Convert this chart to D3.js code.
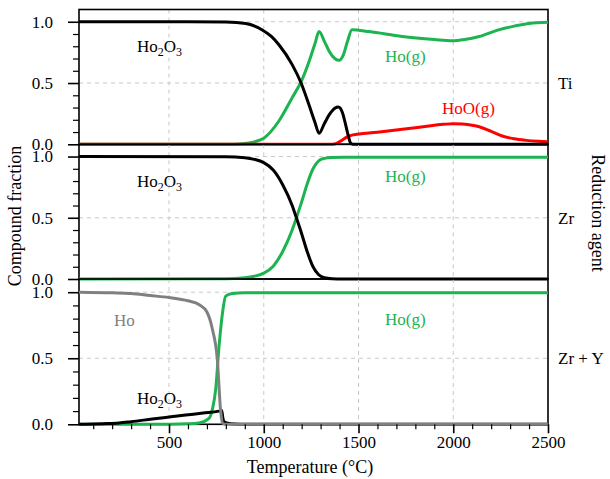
<!DOCTYPE html>
<html>
<head>
<meta charset="utf-8">
<script src="https://cdn.jsdelivr.net/npm/d3@7"></script>
<style>
  html, body { margin: 0; padding: 0; background: #fff; }
  svg text { font-family: "Liberation Serif", "Times New Roman", serif; }
</style>
</head>
<body>
<svg id="chart" width="610" height="479"></svg>
<script>
// ---------- DATA ----------
const xTicksMajor = [500, 1000, 1500, 2000, 2500];
const yTicksMajor = [0, 0.5, 1.0];
const agents = ["Ti", "Zr", "Zr + Y"];

// Panel 1 : Ti
const tiHo2O3_T = [25, 600, 800, 905, 990, 1040, 1081, 1150, 1197, 1239, 1270, 1292, 1320, 1345, 1375, 1394, 1415, 1432, 1446, 1458, 1470, 2500];
const tiHo2O3_V = [1.0, 1.0, 0.997, 0.985, 0.935, 0.88, 0.81, 0.65, 0.50, 0.32, 0.18, 0.09, 0.17, 0.24, 0.295, 0.305, 0.26, 0.16, 0.07, 0.01, 0.0, 0.0];
const tiHoG_T = [25, 800, 887, 950, 1000, 1080, 1150, 1200, 1240, 1270, 1292, 1320, 1345, 1375, 1398, 1420, 1440, 1466, 1556, 1730, 1900, 1994, 2060, 2137, 2230, 2310, 2400, 2500];
const tiHoG_V = [0.0, 0.0, 0.005, 0.02, 0.05, 0.19, 0.38, 0.52, 0.68, 0.82, 0.92, 0.84, 0.76, 0.70, 0.685, 0.73, 0.83, 0.935, 0.92, 0.88, 0.855, 0.845, 0.855, 0.88, 0.93, 0.96, 0.985, 0.995];
const tiHoOG_T = [25, 1350, 1380, 1410, 1440, 1466, 1600, 1800, 1950, 2000, 2050, 2100, 2137, 2200, 2258, 2320, 2385, 2450, 2500];
const tiHoOG_V = [0.0, 0.0, 0.005, 0.03, 0.06, 0.075, 0.098, 0.135, 0.163, 0.168, 0.165, 0.155, 0.143, 0.105, 0.068, 0.045, 0.032, 0.024, 0.02];

// Panel 2 : Zr
const zrHo2O3_T = [25, 800, 900, 950, 1000, 1050, 1100, 1150, 1170, 1200, 1230, 1260, 1290, 1320, 1360, 1420, 2500];
const zrHo2O3_V = [1.0, 0.998, 0.99, 0.977, 0.95, 0.89, 0.77, 0.60, 0.51, 0.37, 0.22, 0.10, 0.035, 0.01, 0.002, 0.0, 0.0];
const zrHoG_T = [25, 800, 900, 950, 1000, 1050, 1100, 1150, 1170, 1200, 1230, 1260, 1290, 1320, 1360, 1420, 2500];
const zrHoG_V = [0.0, 0.002, 0.01, 0.022, 0.048, 0.105, 0.225, 0.40, 0.49, 0.63, 0.78, 0.90, 0.965, 0.985, 0.993, 0.995, 0.995];

// Panel 3 : Zr + Y
const zyHo_T = [25, 200, 300, 400, 500, 600, 660, 700, 729, 755, 772, 782, 795, 820, 2500];
const zyHo_V = [1.0, 0.995, 0.99, 0.975, 0.96, 0.935, 0.905, 0.85, 0.72, 0.49, 0.11, 0.01, 0.0, 0.0, 0.0];
const zyHo2O3_T = [25, 150, 236, 300, 412, 500, 588, 680, 764, 778, 784, 790, 810, 850, 900, 2500];
const zyHo2O3_V = [0.0, 0.005, 0.01, 0.02, 0.04, 0.055, 0.07, 0.085, 0.10, 0.105, 0.05, 0.02, 0.008, 0.002, 0.0, 0.0];
const zyHoG_T = [25, 500, 600, 658, 711, 730, 746, 764, 782, 799, 834, 900, 2500];
const zyHoG_V = [0.0, 0.001, 0.004, 0.01, 0.045, 0.12, 0.26, 0.59, 0.84, 0.97, 0.99, 0.995, 0.995];

// ---------- BUILD ----------
const GREEN = "#1bb450", RED = "#ff0000", GREY = "#808080", BLACK = "#000000";
const zip = (T, V) => T.map((t, i) => ({ t: t, v: V[i] }));

const panels = [
  { agent: agents[0], top: 9.5, bottom: 144.3,
    series: [
      { data: zip(tiHoG_T, tiHoG_V), color: GREEN },
      { data: zip(tiHoOG_T, tiHoOG_V), color: RED },
      { data: zip(tiHo2O3_T, tiHo2O3_V), color: BLACK }
    ],
    labels: [
      { text: "Ho2O3", x: 137, v: 0.8, color: BLACK },
      { text: "Ho(g)", x: 385, v: 0.72, color: GREEN },
      { text: "HoO(g)", x: 442, v: 0.3, color: RED }
    ] },
  { agent: agents[1], top: 144.3, bottom: 279,
    series: [
      { data: zip(zrHoG_T, zrHoG_V), color: GREEN },
      { data: zip(zrHo2O3_T, zrHo2O3_V), color: BLACK }
    ],
    labels: [
      { text: "Ho2O3", x: 137, v: 0.8, color: BLACK },
      { text: "Ho(g)", x: 385, v: 0.84, color: GREEN }
    ] },
  { agent: agents[2], top: 279, bottom: 424.3,
    series: [
      { data: zip(zyHoG_T, zyHoG_V), color: GREEN },
      { data: zip(zyHo2O3_T, zyHo2O3_V), color: BLACK },
      { data: zip(zyHo_T, zyHo_V), color: GREY }
    ],
    labels: [
      { text: "Ho", x: 114, v: 0.79, color: GREY },
      { text: "Ho2O3", x: 137, v: 0.2, color: BLACK },
      { text: "Ho(g)", x: 385, v: 0.8, color: GREEN }
    ] }
];

const svg = d3.select("#chart");
const left = 79, right = 548;
const x = d3.scaleLinear().domain([25, 2500]).range([left, right]);

panels.forEach((p, pi) => {
  const y = d3.scaleLinear().domain([0, 1.1]).range([p.bottom, p.top]);
  const g = svg.append("g");

  // grid
  [500, 1000, 1500, 2000].forEach(t => {
    g.append("line").attr("x1", x(t)).attr("x2", x(t)).attr("y1", p.top).attr("y2", p.bottom)
      .attr("stroke", "#c8c8c8").attr("stroke-width", 1).attr("stroke-dasharray", "4,4");
  });
  [0.5, 1.0].forEach(v => {
    g.append("line").attr("x1", left).attr("x2", right).attr("y1", y(v)).attr("y2", y(v))
      .attr("stroke", "#c8c8c8").attr("stroke-width", 1).attr("stroke-dasharray", "4,4");
  });

  // frame
  g.append("rect").attr("x", left).attr("y", p.top).attr("width", right - left).attr("height", p.bottom - p.top)
    .attr("fill", "none").attr("stroke", "#000").attr("stroke-width", 1.6);

  // y axis: minor ticks
  const minor = d3.range(1, 11).map(i => i / 10).filter(v => Math.abs(v - 0.5) > 1e-6 && Math.abs(v - 1) > 1e-6);
  const yMinor = d3.axisLeft(y).tickValues(minor).tickSize(6).tickFormat("");
  const gm = g.append("g").attr("transform", `translate(${left},0)`).call(yMinor);
  gm.select(".domain").remove();
  gm.selectAll("line").attr("stroke", "#000").attr("stroke-width", 1.2);

  const yMajor = d3.axisLeft(y).tickValues(yTicksMajor).tickSize(11).tickPadding(15).tickFormat(d3.format(".1f"));
  const ga = g.append("g").attr("transform", `translate(${left},0)`).call(yMajor);
  ga.select(".domain").remove();
  ga.selectAll("line").attr("stroke", "#000").attr("stroke-width", 1.6);
  ga.selectAll("text").attr("font-family", "Liberation Serif, Times New Roman, serif")
    .attr("font-size", 17).attr("fill", "#000");

  // curves
  const line = d3.line().x(d => x(d.t)).y(d => y(d.v)).curve(d3.curveMonotoneX);
  p.series.forEach(s => {
    g.append("path").datum(s.data).attr("d", line)
      .attr("fill", "none").attr("stroke", s.color).attr("stroke-width", 3)
      .attr("stroke-linejoin", "round").attr("stroke-linecap", "butt");
  });

  // curve labels
  p.labels.forEach(l => {
    const t = g.append("text").attr("x", l.x).attr("y", y(l.v) + 6)
      .attr("font-size", 17).attr("fill", l.color);
    if (l.text === "Ho2O3") {
      t.append("tspan").text("Ho");
      t.append("tspan").text("2").attr("font-size", 12).attr("dy", 4);
      t.append("tspan").text("O").attr("dy", -4);
      t.append("tspan").text("3").attr("font-size", 12).attr("dy", 4);
    } else {
      t.text(l.text);
    }
  });

  // agent label
  g.append("text").attr("x", 558).attr("y", y(0.5) + 6).attr("font-size", 17).attr("fill", "#000").text(p.agent);

  // x axis on bottom panel
  if (pi === panels.length - 1) {
    const xMinor = d3.axisBottom(x).tickValues(d3.range(100, 2500, 100).filter(t => t % 500 !== 0))
      .tickSize(5).tickFormat("");
    const gx1 = g.append("g").attr("transform", `translate(0,${p.bottom})`).call(xMinor);
    gx1.select(".domain").remove();
    gx1.selectAll("line").attr("stroke", "#000").attr("stroke-width", 1.2);

    const xMajor = d3.axisBottom(x).tickValues(xTicksMajor).tickSize(9).tickPadding(3).tickFormat(d3.format("d"));
    const gx2 = g.append("g").attr("transform", `translate(0,${p.bottom})`).call(xMajor);
    gx2.select(".domain").remove();
    gx2.selectAll("line").attr("stroke", "#000").attr("stroke-width", 1.6);
    gx2.selectAll("text").attr("font-family", "Liberation Serif, Times New Roman, serif")
      .attr("font-size", 17).attr("fill", "#000");
  }
});

// axis titles
svg.append("text").attr("x", 310).attr("y", 473).attr("text-anchor", "middle")
  .attr("font-size", 18).attr("fill", "#000").text("Temperature (°C)");
svg.append("text").attr("transform", "translate(21,216) rotate(-90)").attr("text-anchor", "middle")
  .attr("font-size", 18).attr("fill", "#000").text("Compound fraction");
svg.append("text").attr("transform", "translate(592,213) rotate(90)").attr("text-anchor", "middle")
  .attr("font-size", 18).attr("fill", "#000").text("Reduction agent");
</script>
</body>
</html>
